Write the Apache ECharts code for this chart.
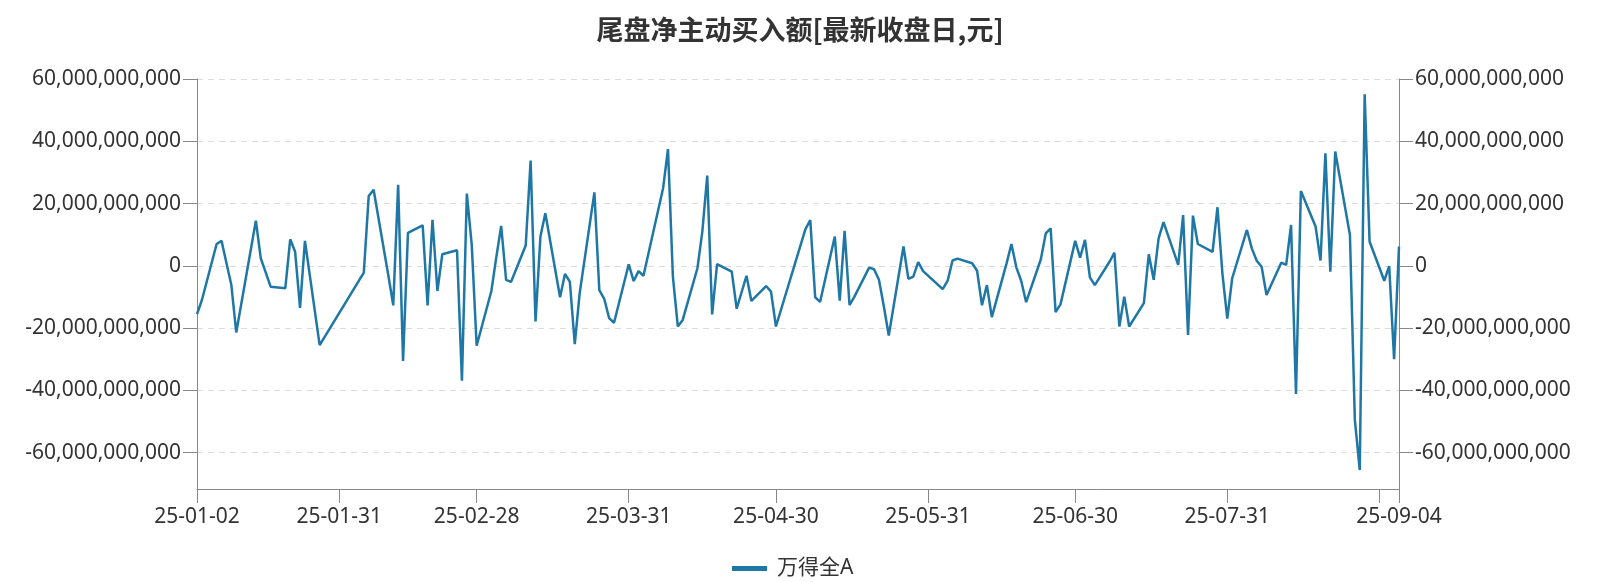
<!DOCTYPE html>
<html>
<head>
<meta charset="utf-8">
<script src="https://cdn.jsdelivr.net/npm/echarts@6/dist/echarts.min.js"></script>
<style>
  html, body { margin: 0; padding: 0; background: #fff; }
  #chart { width: 1600px; height: 582px; }
</style>
</head>
<body>
<div id="chart"></div>
<script>
// ---- data (values in units of 1e9 yuan) ----
const tradeDates = [
  '25-01-02','25-01-03','25-01-06','25-01-07','25-01-08','25-01-09','25-01-10','25-01-13','25-01-14','25-01-15',
  '25-01-16','25-01-17','25-01-20','25-01-21','25-01-22','25-01-23','25-01-24','25-01-27',
  '25-02-05','25-02-06','25-02-07','25-02-10','25-02-11','25-02-12','25-02-13','25-02-14','25-02-17','25-02-18',
  '25-02-19','25-02-20','25-02-21','25-02-24','25-02-25','25-02-26','25-02-27','25-02-28',
  '25-03-03','25-03-04','25-03-05','25-03-06','25-03-07','25-03-10','25-03-11','25-03-12','25-03-13','25-03-14',
  '25-03-17','25-03-18','25-03-19','25-03-20','25-03-21','25-03-24','25-03-25','25-03-26','25-03-27','25-03-28','25-03-31',
  '25-04-01','25-04-02','25-04-03','25-04-07','25-04-08','25-04-09','25-04-10','25-04-11','25-04-14','25-04-15',
  '25-04-16','25-04-17','25-04-18','25-04-21','25-04-22','25-04-23','25-04-24','25-04-25','25-04-28','25-04-29','25-04-30',
  '25-05-06','25-05-07','25-05-08','25-05-09','25-05-12','25-05-13','25-05-14','25-05-15','25-05-16','25-05-19',
  '25-05-20','25-05-21','25-05-22','25-05-23','25-05-26','25-05-27','25-05-28','25-05-29','25-05-30',
  '25-06-03','25-06-04','25-06-05','25-06-06','25-06-09','25-06-10','25-06-11','25-06-12','25-06-13','25-06-16',
  '25-06-17','25-06-18','25-06-19','25-06-20','25-06-23','25-06-24','25-06-25','25-06-26','25-06-27','25-06-30',
  '25-07-01','25-07-02','25-07-03','25-07-04','25-07-07','25-07-08','25-07-09','25-07-10','25-07-11','25-07-14',
  '25-07-15','25-07-16','25-07-17','25-07-18','25-07-21','25-07-22','25-07-23','25-07-24','25-07-25','25-07-28',
  '25-07-29','25-07-30','25-07-31',
  '25-08-01','25-08-04','25-08-05','25-08-06','25-08-07','25-08-08','25-08-11','25-08-12','25-08-13','25-08-14',
  '25-08-15','25-08-18','25-08-19','25-08-20','25-08-21','25-08-22','25-08-25','25-08-26','25-08-27','25-08-28','25-08-29',
  '25-09-01','25-09-02','25-09-03','25-09-04'
];
const wandeA = [
  -15.5,-11.0,7.0,8.0,0.9,-6.2,-21.4,5.5,14.5,2.4,
  -2.1,-6.7,-7.2,8.5,4.5,-13.5,8.0,-25.5,
  -2.2,22.4,24.4,-3.1,-12.7,26.0,-30.6,10.6,13.0,-12.7,
  14.8,-8.1,3.7,5.0,-36.9,23.2,6.7,-25.7,
  -8.1,2.7,12.8,-4.5,-5.2,6.5,33.8,-17.9,9.4,16.9,
  -10.1,-2.6,-5.2,-25.2,-8.8,23.6,-7.8,-10.6,-16.8,-18.3,0.5,
  -4.9,-1.7,-3.2,24.9,37.5,-3.5,-19.5,-17.4,-0.8,11.0,
  29.0,-15.6,0.5,-1.9,-13.8,-8.5,-3.2,-11.3,-6.5,-8.3,-19.5,
  11.7,14.7,-10.1,-11.6,9.4,-11.2,11.2,-12.6,-9.9,-0.6,
  -1.1,-4.5,-13.1,-22.4,6.2,-4.2,-3.5,1.2,-1.7,
  -7.5,-4.8,1.7,2.3,0.8,-1.6,-12.7,-6.2,-16.5,0.7,
  7.0,-0.5,-4.9,-11.7,2.1,10.4,12.0,-14.9,-12.4,8.0,
  2.6,8.3,-3.7,-6.2,1.3,4.2,-19.5,-9.9,-19.5,-12.0,
  3.7,-4.5,8.8,14.0,0.3,16.3,-22.2,16.1,7.0,4.5,
  18.8,-2.4,-17.0,
  -4.0,11.5,5.6,1.6,-0.3,-9.4,1.0,0.3,13.1,-41.2,
  24.0,12.6,1.7,36.1,-1.9,36.7,9.9,-49.5,-65.6,55.1,7.8,
  -4.8,-0.1,-30.0,6.2
];
const labelDates = ['25-01-02','25-01-31','25-02-28','25-03-31','25-04-30','25-05-31','25-06-30','25-07-31','25-09-04'];
const tickDates  = ['25-01-02','25-01-31','25-02-28','25-03-31','25-04-30','25-05-31','25-06-30','25-07-31','25-08-31','25-09-04'];
const firstDay = '2025-01-02';
const lastDay  = '2025-09-04';
const seriesName = '万得全A';
const titleText = '尾盘净主动买入额[最新收盘日,元]';

// ---- build calendar category axis ----
const valueMap = {};
tradeDates.forEach((d, i) => { valueMap[d] = wandeA[i] * 1e9; });
const calendar = [];
for (let t = Date.parse(firstDay + 'T00:00:00Z'); t <= Date.parse(lastDay + 'T00:00:00Z'); t += 86400000) {
  const dt = new Date(t);
  const s = String(dt.getUTCFullYear()).slice(2) + '-' +
            String(dt.getUTCMonth() + 1).padStart(2, '0') + '-' +
            String(dt.getUTCDate()).padStart(2, '0');
  calendar.push(s);
}
const seriesData = calendar.map(d => (d in valueMap ? valueMap[d] : null));

const fmt = v => Math.round(v).toString().replace(/\B(?=(\d{3})+(?!\d))/g, ',');
const labelFont = { fontFamily: 'Noto Sans, Noto Sans CJK SC, sans-serif', fontSize: 21, color: '#333' };

const chart = echarts.init(document.getElementById('chart'), null, { renderer: 'canvas' });
const yCommon = {
  type: 'value',
  min: -71.7e9,
  max: 60e9,
  splitNumber: 6,
  axisLine: { show: true, lineStyle: { color: '#888', width: 1 } },
  axisTick: { show: true, length: 14, lineStyle: { color: '#888' } },
  axisLabel: Object.assign({ margin: 16, formatter: fmt, showMinLabel: false }, labelFont)
};
chart.setOption({
  animation: false,
  backgroundColor: '#fff',
  title: {
    text: titleText,
    left: 'center',
    top: 11,
    textStyle: { fontFamily: 'Noto Sans CJK SC, sans-serif', fontSize: 27, fontWeight: 'bold', color: '#333' }
  },
  legend: {
    data: [seriesName],
    left: 727,
    top: 553,
    icon: 'rect',
    itemWidth: 35,
    itemHeight: 5,
    itemGap: 10,
    textStyle: Object.assign({ padding: [0, 0, 0, 5] }, labelFont)
  },
  grid: { left: 197, right: 201, top: 79, bottom: 93, containLabel: false },
  xAxis: {
    type: 'category',
    data: calendar,
    boundaryGap: false,
    axisLine: { show: true, onZero: false, lineStyle: { color: '#888', width: 1 } },
    axisTick: { show: true, length: 14, lineStyle: { color: '#888' }, interval: (i, v) => tickDates.includes(v) },
    axisLabel: Object.assign({ margin: 18, interval: (i, v) => labelDates.includes(v) }, labelFont),
    splitLine: { show: false }
  },
  yAxis: [
    Object.assign({}, yCommon, {
      position: 'left',
      splitLine: { show: true, lineStyle: { color: '#dcdcdc', type: [6, 5], width: 1 } }
    }),
    Object.assign({}, yCommon, {
      position: 'right',
      splitLine: { show: false }
    })
  ],
  series: [{
    name: seriesName,
    type: 'line',
    yAxisIndex: 0,
    data: seriesData,
    connectNulls: true,
    showSymbol: false,
    symbol: 'none',
    lineStyle: { color: '#1f77a5', width: 2.5 },
    itemStyle: { color: '#1f77a5' }
  }]
});
</script>
</body>
</html>
